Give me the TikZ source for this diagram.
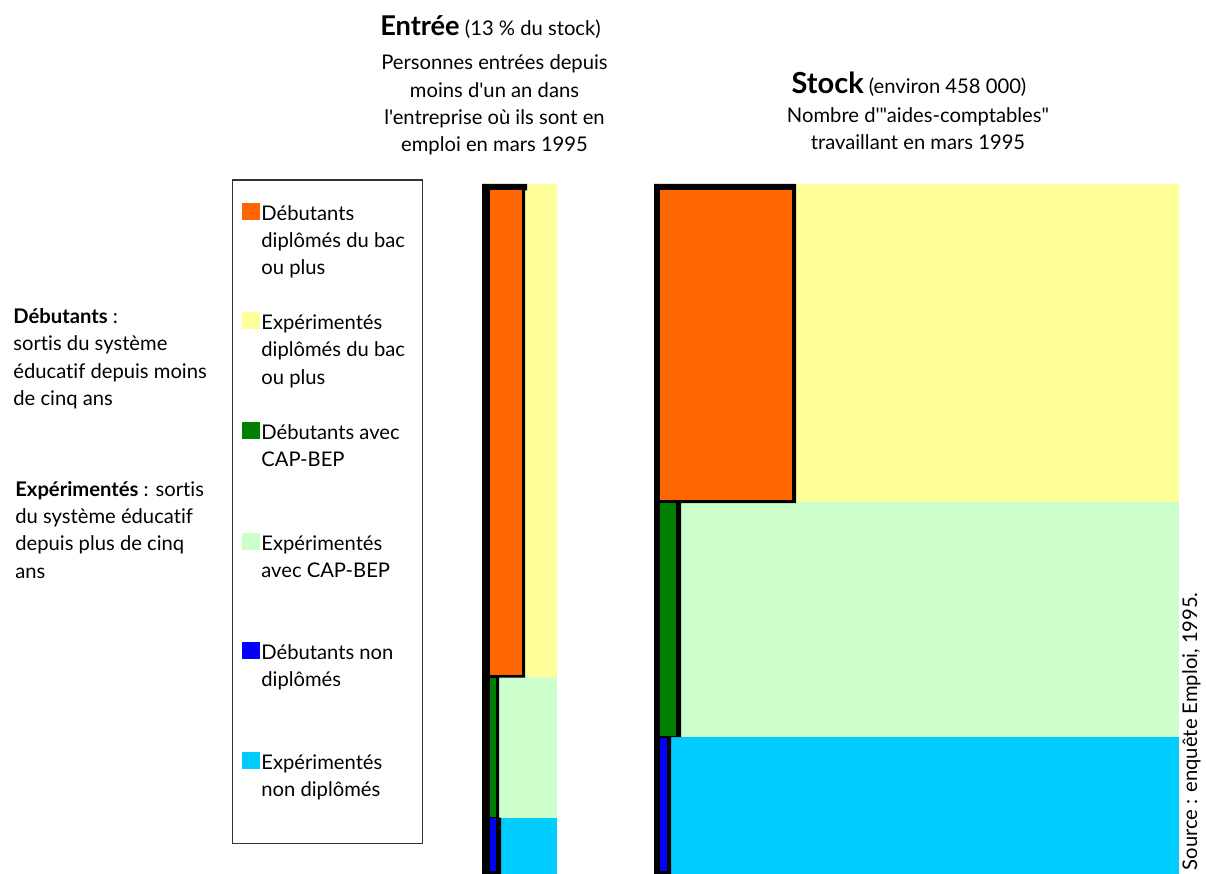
\documentclass[tikz,border=0pt]{standalone}
\usepackage{fontspec}
\setmainfont{Lato}[Ligatures={TeXOff,CommonOff}]
\usetikzlibrary{positioning}

\definecolor{debbac}{HTML}{FF6600}
\definecolor{expbac}{HTML}{FFFF99}
\definecolor{debcap}{HTML}{008000}
\definecolor{expcap}{HTML}{CCFFCC}
\definecolor{debnon}{HTML}{0000FF}
\definecolor{expnon}{HTML}{00CCFF}

\tikzset{
  txt/.style={inner sep=0pt, align=left, font=\fontsize{11.5}{15.55}\selectfont},
  ctxt/.style={inner sep=0pt, align=center, font=\fontsize{11.5}{15.55}\selectfont},
  keybox/.style={inner sep=0pt, minimum width=0.36cm, minimum height=0.34cm}
}

\begin{document}
\begin{tikzpicture}[x=0.02cm, y=-0.02cm]
  \useasboundingbox (0,0) rectangle (1206,874);

  % titles (base anchor = last line)
  \node[ctxt, anchor=base] (entree) at (490.5,36) {{\fontsize{15.5}{18}\selectfont\bfseries Entrée} (13 \% du stock)};
  \node[ctxt, anchor=base] (entreetxt) at (494.5,151.7) {Personnes entrées depuis\\moins d'un an dans\\l'entreprise où ils sont en\\emploi en mars 1995};
  \node[ctxt, anchor=base] (stock) at (909,93.3) {{\fontsize{16.5}{18}\selectfont\bfseries Stock} (environ 458 000)};
  \node[ctxt, anchor=base] (stocktxt) at (918,150) {Nombre d'"aides-comptables"\\travaillant en mars 1995};

  % definitions on the left
  \node[txt, anchor=base west] (defdeb) at (13,405.5) {\textbf{Débutants} :\\sortis du système\\éducatif depuis moins\\de cinq ans};
  \node[txt, anchor=base west] (defexp) at (15,578) {\textbf{Expérimentés} : sortis\\du système éducatif\\depuis plus de cinq\\ans};

  % legend
  \draw[black!80, line width=0.6pt] (232.3,180) rectangle (422.7,843.5);
  \node[keybox, fill=debbac, anchor=south west] (k1) at (241.5,220) {};
  \node[txt, anchor=base west] (l1) at (261,274.8) {Débutants\\diplômés du bac\\ou plus};
  \node[keybox, fill=expbac, anchor=south west] (k2) at (241.5,329.5) {};
  \node[txt, anchor=base west] (l2) at (261,384.3) {Expérimentés\\diplômés du bac\\ou plus};
  \node[keybox, fill=debcap, anchor=south west] (k3) at (241.5,439.5) {};
  \node[txt, anchor=base west] (l3) at (261,466.9) {Débutants avec\\CAP-BEP};
  \node[keybox, fill=expcap, anchor=south west] (k4) at (241.5,550) {};
  \node[txt, anchor=base west] (l4) at (261,577.4) {Expérimentés\\avec CAP-BEP};
  \node[keybox, fill=debnon, anchor=south west] (k5) at (241.5,659) {};
  \node[txt, anchor=base west] (l5) at (261,686.4) {Débutants non\\diplômés};
  \node[keybox, fill=expnon, anchor=south west] (k6) at (241.5,769) {};
  \node[txt, anchor=base west] (l6) at (261,796.4) {Expérimentés\\non diplômés};

  % entree bar
  \fill[expbac] (525,184) rectangle (557,677);
  \fill[expcap] (499,677) rectangle (557,817.5);
  \fill[expnon] (501,817.5) rectangle (557,874);
  \fill[black] (482,184) -- (527,184) -- (527,190.5) -- (525,190.5) -- (525,677.5) -- (499,677.5)
    -- (499,817.5) -- (501,817.5) -- (501,874) -- (482,874) -- cycle;
  \fill[debbac] (490,190.5) rectangle (522,675);
  \fill[debcap] (490,677.5) rectangle (496,817);
  \fill[debnon] (490,817.5) rectangle (496,871);

  % stock bar
  \fill[expbac] (796,184) rectangle (1179,502);
  \fill[expcap] (681,502) rectangle (1179,737);
  \fill[expnon] (671,737) rectangle (1179,874);
  \fill[black] (654,184) -- (796,184) -- (796,503) -- (681,503) -- (681,737) -- (671,737)
    -- (671,874) -- (654,874) -- cycle;
  \fill[debbac] (660,190.5) rectangle (792,500);
  \fill[debcap] (660,503) rectangle (676,736);
  \fill[debnon] (660,738) rectangle (667,871);

  % source
  \node[txt, rotate=90, anchor=base east] (src) at (1197,592) {Source : enquête Emploi, 1995.};
\end{tikzpicture}
\end{document}
